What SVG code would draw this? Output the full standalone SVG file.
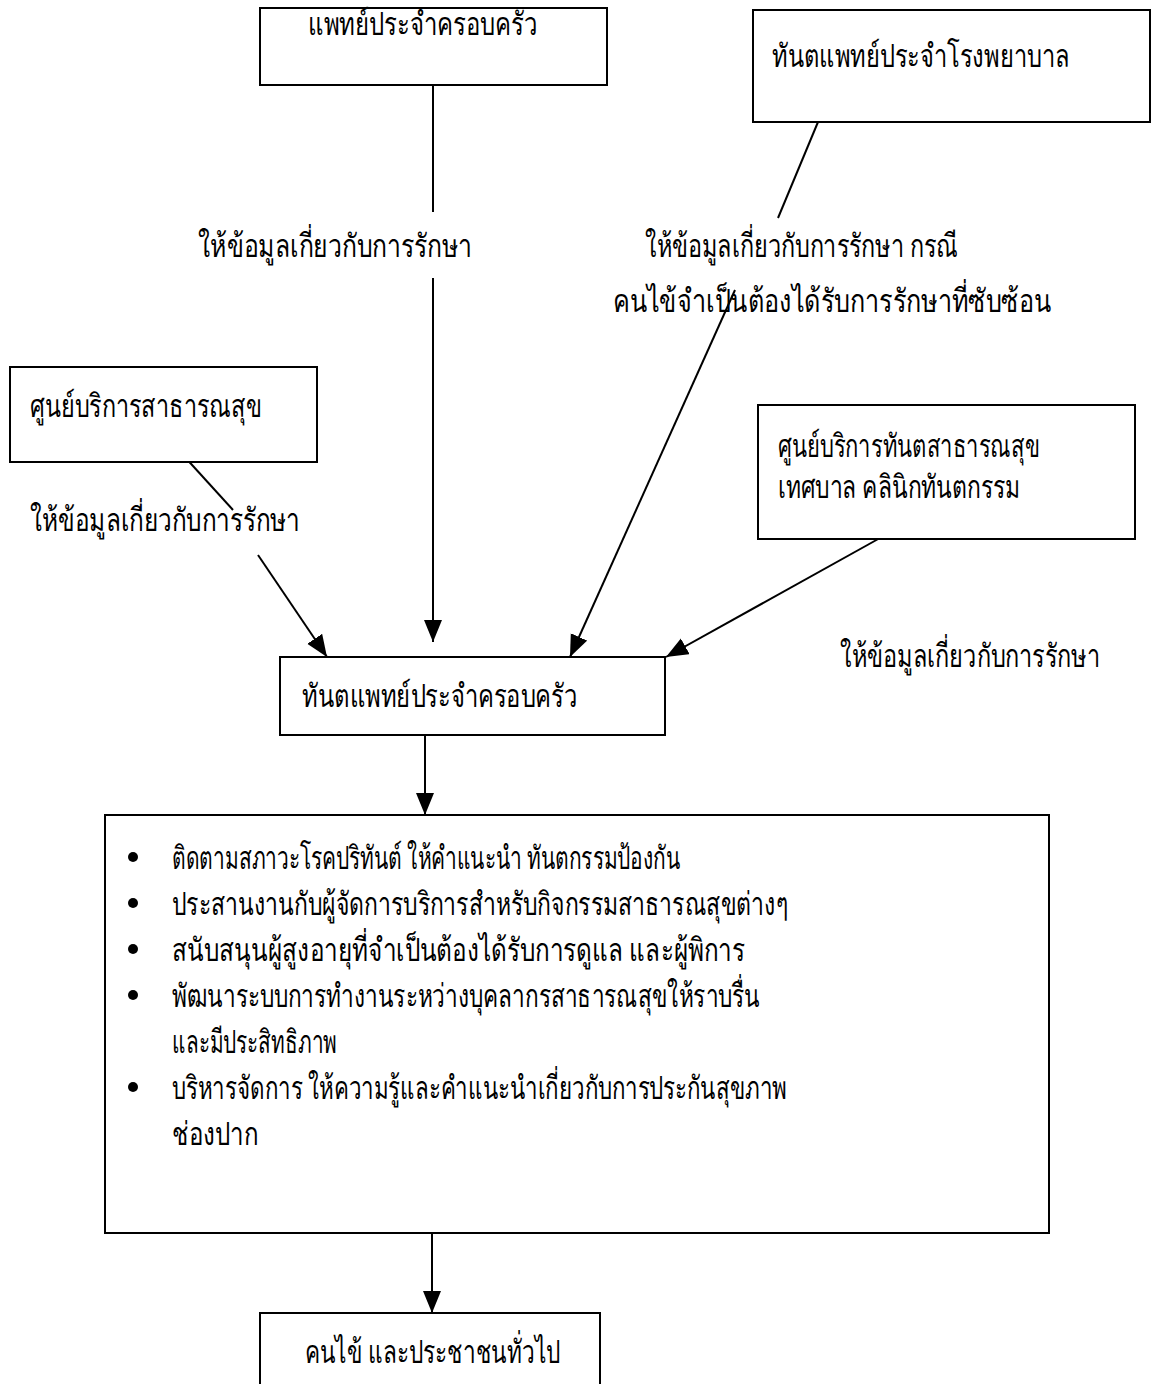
<svg xmlns="http://www.w3.org/2000/svg" width="1155" height="1384" viewBox="0 0 1155 1384">
<defs>
<marker id="ah" markerUnits="userSpaceOnUse" markerWidth="24" markerHeight="20" refX="22" refY="9" orient="auto">
<path d="M0,0 L22,9 L0,18 Z" fill="#000"/>
</marker>
<style>
rect.box{fill:#fff;stroke:#000;stroke-width:2}
text{font-family:"Liberation Serif","DejaVu Serif",serif;font-size:32px;fill:#000}
line.c{stroke:#000;stroke-width:2}
</style>
</defs>
<rect width="1155" height="1384" fill="#fff"/>
<g id="connectors">
<line class="c" x1="433" y1="85" x2="433" y2="212"/>
<line class="c" x1="433" y1="278" x2="433" y2="642" marker-end="url(#ah)"/>
<line class="c" x1="818" y1="122" x2="778" y2="218"/>
<line class="c" x1="735" y1="290" x2="570" y2="657" marker-end="url(#ah)"/>
<line class="c" x1="183" y1="455" x2="233" y2="510"/>
<line class="c" x1="258" y1="555" x2="327" y2="657" marker-end="url(#ah)"/>
<line class="c" x1="880" y1="538" x2="666" y2="657" marker-end="url(#ah)"/>
<line class="c" x1="425" y1="735" x2="425" y2="815" marker-end="url(#ah)"/>
<line class="c" x1="432" y1="1233" x2="432" y2="1313" marker-end="url(#ah)"/>
</g>
<g id="n1"><rect class="box" x="260" y="8" width="347" height="77"/><text x="308" y="35" textLength="229" lengthAdjust="spacingAndGlyphs">แพทย์ประจำครอบครัว</text></g>
<g id="n2"><rect class="box" x="753" y="10" width="397" height="112"/><text x="772" y="67" textLength="298" lengthAdjust="spacingAndGlyphs">ทันตแพทย์ประจำโรงพยาบาล</text></g>
<g id="l1"><text x="198" y="257" textLength="274" lengthAdjust="spacingAndGlyphs">ให้ข้อมูลเกี่ยวกับการรักษา</text></g>
<g id="l2"><text x="645" y="257" textLength="313" lengthAdjust="spacingAndGlyphs">ให้ข้อมูลเกี่ยวกับการรักษา กรณี</text><text x="613" y="312" textLength="438" lengthAdjust="spacingAndGlyphs">คนไข้จำเป็นต้องได้รับการรักษาที่ซับซ้อน</text></g>
<g id="n3"><rect class="box" x="10" y="367" width="307" height="95"/><text x="30" y="417" textLength="232" lengthAdjust="spacingAndGlyphs">ศูนย์บริการสาธารณสุข</text></g>
<g id="l3"><text x="30" y="531" textLength="270" lengthAdjust="spacingAndGlyphs">ให้ข้อมูลเกี่ยวกับการรักษา</text></g>
<g id="n4"><rect class="box" x="758" y="405" width="377" height="134"/><text x="778" y="457" textLength="262" lengthAdjust="spacingAndGlyphs">ศูนย์บริการทันตสาธารณสุข</text><text x="778" y="498" textLength="242" lengthAdjust="spacingAndGlyphs">เทศบาล คลินิกทันตกรรม</text></g>
<g id="l4"><text x="840" y="667" textLength="260" lengthAdjust="spacingAndGlyphs">ให้ข้อมูลเกี่ยวกับการรักษา</text></g>
<g id="n5"><rect class="box" x="280" y="657" width="385" height="78"/><text x="302" y="707" textLength="275" lengthAdjust="spacingAndGlyphs">ทันตแพทย์ประจำครอบครัว</text></g>
<g id="n6"><rect class="box" x="105" y="815" width="944" height="418"/>
<circle cx="133" cy="857" r="5"/><text x="172" y="869" textLength="508" lengthAdjust="spacingAndGlyphs">ติดตามสภาวะโรคปริทันต์  ให้คำแนะนำ ทันตกรรมป้องกัน</text>
<circle cx="133" cy="903" r="5"/><text x="172" y="915" textLength="616" lengthAdjust="spacingAndGlyphs">ประสานงานกับผู้จัดการบริการสำหรับกิจกรรมสาธารณสุขต่างๆ</text>
<circle cx="133" cy="949" r="5"/><text x="172" y="961" textLength="573" lengthAdjust="spacingAndGlyphs">สนับสนุนผู้สูงอายุที่จำเป็นต้องได้รับการดูแล และผู้พิการ</text>
<circle cx="133" cy="995" r="5"/><text x="172" y="1007" textLength="588" lengthAdjust="spacingAndGlyphs">พัฒนาระบบการทำงานระหว่างบุคลากรสาธารณสุขให้ราบรื่น</text>
<text x="172" y="1053" textLength="165" lengthAdjust="spacingAndGlyphs">และมีประสิทธิภาพ</text>
<circle cx="133" cy="1087" r="5"/><text x="172" y="1099" textLength="615" lengthAdjust="spacingAndGlyphs">บริหารจัดการ ให้ความรู้และคำแนะนำเกี่ยวกับการประกันสุขภาพ</text>
<text x="172" y="1145" textLength="86" lengthAdjust="spacingAndGlyphs">ช่องปาก</text>
</g>
<g id="n7"><rect class="box" x="260" y="1313" width="340" height="90"/><text x="305" y="1363" textLength="255" lengthAdjust="spacingAndGlyphs">คนไข้  และประชาชนทั่วไป</text></g>
</svg>
